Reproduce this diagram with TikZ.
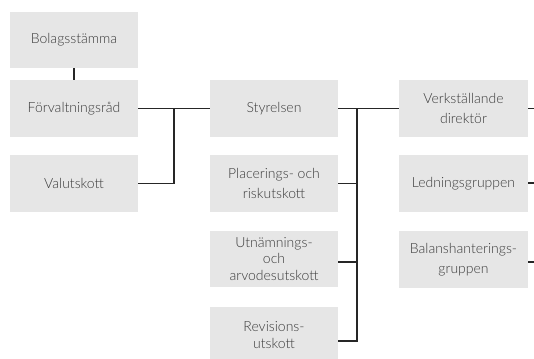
\documentclass[tikz,border=0pt]{standalone}
\usepackage{fontspec}
\setmainfont{Lato Light}
\definecolor{boxfill}{HTML}{E6E6E6}
\definecolor{txt}{HTML}{3A3A3A}
\tikzset{
  orgbox/.style={rectangle, fill=boxfill, minimum width=128pt, minimum height=56.5pt, inner sep=0pt,
    align=center, text=txt, font=\fontsize{14}{20}\selectfont},
  threeline/.style={font=\fontsize{14}{16.5}\selectfont},
  conn/.style={line width=1.5pt, black!85}
}
\begin{document}
\begin{tikzpicture}[x=1pt,y=-1pt]
\useasboundingbox (0,0) rectangle (534,358);
\clip (0,0) rectangle (534,358);
\node[orgbox] (bol) at (74,40) {Bolagsstämma};
\node[orgbox] (forv) at (74,108.5) {Förvaltningsråd};
\node[orgbox] (valu) at (74,183.5) {Valutskott};
\node[orgbox] (styr) at (274,108.5) {Styrelsen};
\node[orgbox] (plac) at (274,183.5) {Placerings- och\\riskutskott};
\node[orgbox, threeline] (utn) at (274,259) {Utnämnings-\\och\\arvodesutskott};
\node[orgbox, minimum height=56pt, font=\fontsize{14}{17}\selectfont] (rev) at (274,335) {Revisions-\\utskott};
\node[orgbox, minimum width=129pt] (vd) at (463.5,108.5) {Verkställande\\direktör};
\node[orgbox, minimum width=129pt] (led) at (463.5,183.5) {Ledningsgruppen};
\node[orgbox, minimum width=129pt] (bal) at (463.5,259.5) {Balanshanterings-\\gruppen};
\coordinate (j1) at (174,108.5);
\coordinate (j2) at (357,108.5);
\coordinate (bot) at (357,341);
\coordinate (e1) at (534,108.5);
\coordinate (e2) at (534,183);
\coordinate (e3) at (534,262);
\draw[conn] (bol.south) -- (forv.north);
\draw[conn] (forv.east) -- (styr.west);
\draw[conn] (valu.east) -| (j1);
\draw[conn] (styr.east) -- (vd.west);
\draw[conn] (j2) -- (bot) -- (rev.east |- bot);
\draw[conn] (plac.east) -- (plac.east -| j2);
\draw[conn] (utn.east |- 0,262) -- (357,262);
\draw[conn] (vd.east) -- (e1);
\draw[conn] (led.east |- e2) -- (e2);
\draw[conn] (bal.east |- e3) -- (e3);
\end{tikzpicture}
\end{document}
